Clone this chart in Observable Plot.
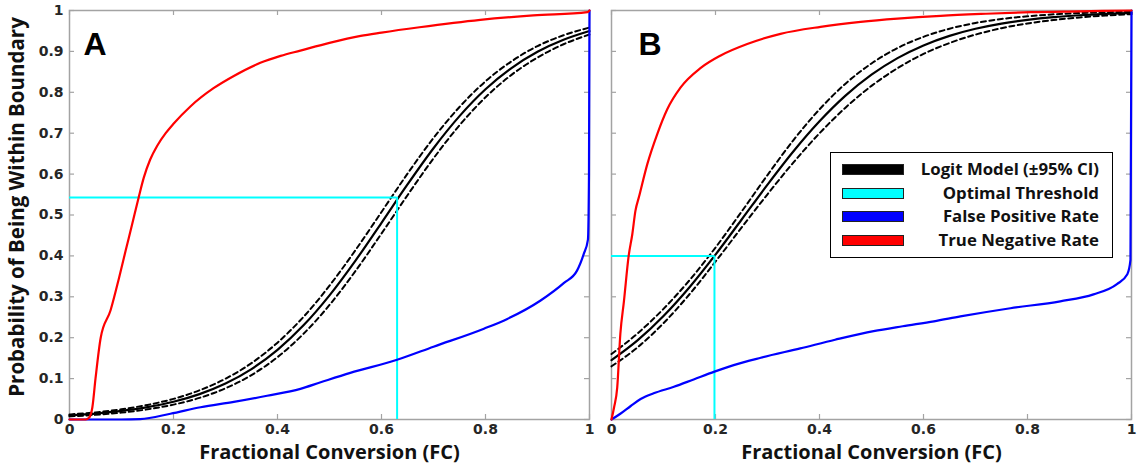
<!DOCTYPE html>
<html>
<head>
<meta charset="utf-8">
<script src="https://cdn.jsdelivr.net/npm/d3@7"></script>
<script src="https://cdn.jsdelivr.net/npm/@observablehq/plot@0.6"></script>
<style>
  body { margin: 0; background: #fff; }
  #wrap { position: relative; width: 1137px; height: 468px; overflow: hidden; }
  #wrap > svg { position: absolute; top: 0; }
  .legend { position: absolute; left: 830px; top: 152px; width: 283px; height: 106px;
            border: 1.5px solid #000; background: #fff; box-sizing: border-box;
            font: bold 16.8px "Open Sans", sans-serif; color: #111; }
  .legend .row { position: absolute; left: 0; right: 0; height: 22px; }
  .legend .sw { position: absolute; left: 11px; top: 6px; width: 62px; height: 11px;
                border: 1px solid #222; box-sizing: border-box; }
  .legend .lab { position: absolute; right: 13px; top: 0; line-height: 22px; white-space: nowrap; }
</style>
</head>
<body>
<div id="wrap"></div>
<script>
// ---- Axis ticks and titles ----
const xTickValues = [0, 0.2, 0.4, 0.6, 0.8, 1];
const xTickLabels = ["0", "0.2", "0.4", "0.6", "0.8", "1"];
const yTickValues = [0, 0.1, 0.2, 0.3, 0.4, 0.5, 0.6, 0.7, 0.8, 0.9, 1];
const yTickLabels = ["0", "0.1", "0.2", "0.3", "0.4", "0.5", "0.6", "0.7", "0.8", "0.9", "1"];
const xTitle = "Fractional Conversion (FC)";
const yTitle = "Probability of Being Within Boundary";
const panelLetters = ["A", "B"];

// ---- Logit model (fitted probability and 95% CI), sampled along FC ----
const fcGrid = [0, 0.05, 0.1, 0.15, 0.2, 0.25, 0.3, 0.35, 0.4, 0.45, 0.5,
                0.55, 0.6, 0.65, 0.7, 0.75, 0.8, 0.85, 0.9, 0.95, 1];
const logitA      = [0.0100, 0.0144, 0.0209, 0.0302, 0.0434, 0.0621, 0.0880, 0.1233, 0.1702, 0.2302, 0.3036,
                     0.3886, 0.4810, 0.5747, 0.6633, 0.7417, 0.8073, 0.8592, 0.8990, 0.9284, 0.9498];
const logitAUpper = [0.0123, 0.0174, 0.0249, 0.0356, 0.0504, 0.0714, 0.0997, 0.1379, 0.1879, 0.2509, 0.3272,
                     0.4141, 0.5074, 0.6010, 0.6882, 0.7641, 0.8268, 0.8757, 0.9130, 0.9394, 0.9583];
const logitALower = [0.0077, 0.0114, 0.0169, 0.0248, 0.0364, 0.0528, 0.0763, 0.1087, 0.1525, 0.2095, 0.2800,
                     0.3631, 0.4546, 0.5484, 0.6384, 0.7193, 0.7878, 0.8427, 0.8850, 0.9174, 0.9413];
const logitB      = [0.1450, 0.1933, 0.2530, 0.3234, 0.4032, 0.4884, 0.5742, 0.6559, 0.7291, 0.7918, 0.8431,
                     0.8836, 0.9147, 0.9380, 0.9553, 0.9680, 0.9771, 0.9837, 0.9884, 0.9918, 0.9941];
const logitBUpper = [0.1600, 0.2103, 0.2705, 0.3406, 0.4204, 0.5079, 0.5977, 0.6832, 0.7584, 0.8211, 0.8705,
                     0.9082, 0.9356, 0.9555, 0.9695, 0.9793, 0.9859, 0.9906, 0.9937, 0.9958, 0.9971];
const logitBLower = [0.1300, 0.1763, 0.2355, 0.3062, 0.3860, 0.4689, 0.5507, 0.6286, 0.6998, 0.7625, 0.8157,
                     0.8590, 0.8938, 0.9205, 0.9411, 0.9567, 0.9683, 0.9768, 0.9831, 0.9878, 0.9911];

// ---- Empirical rates ----
const tnrAX = [0, 0.031, 0.038, 0.044, 0.05, 0.06, 0.079, 0.095, 0.108, 0.12, 0.133, 0.143, 0.155, 0.169, 0.185, 0.2,
               0.233, 0.277, 0.316, 0.367, 0.406, 0.444, 0.5, 0.56, 0.6, 0.673, 0.79, 0.892, 0.996, 1];
const tnrAY = [0, 0, 0.005, 0.03, 0.10, 0.20, 0.267, 0.345, 0.413, 0.475, 0.543, 0.592, 0.635, 0.670, 0.700, 0.723,
               0.766, 0.810, 0.840, 0.872, 0.889, 0.902, 0.921, 0.938, 0.946, 0.959, 0.977, 0.988, 0.996, 1];
const fprAX = [0, 0.1, 0.136, 0.194, 0.252, 0.316, 0.38, 0.444, 0.483, 0.54, 0.63, 0.70, 0.797, 0.842,
               0.906, 0.951, 0.976, 0.989, 0.997, 0.999, 1];
const fprAY = [0, 0, 0.001, 0.014, 0.03, 0.043, 0.058, 0.075, 0.091, 0.114, 0.146, 0.178, 0.222, 0.246,
               0.291, 0.334, 0.364, 0.405, 0.44, 0.6, 1];
const tnrBX = [0, 0.005, 0.011, 0.017, 0.024, 0.033, 0.04, 0.046, 0.053, 0.069, 0.088, 0.107, 0.133, 0.171,
               0.21, 0.261, 0.325, 0.402, 0.479, 0.55, 0.633, 0.72, 0.806, 0.9, 1];
const tnrBY = [0, 0.03, 0.078, 0.209, 0.29, 0.40, 0.453, 0.51, 0.545, 0.625, 0.698, 0.758, 0.812, 0.859,
               0.89, 0.918, 0.943, 0.960, 0.972, 0.98, 0.987, 0.992, 0.996, 0.998, 1];
const fprBX = [0, 0.017, 0.037, 0.056, 0.081, 0.12, 0.158, 0.198, 0.235, 0.287, 0.363, 0.43, 0.504, 0.56,
               0.62, 0.671, 0.767, 0.863, 0.927, 0.972, 0.992, 0.998, 1];
const fprBY = [0, 0.014, 0.033, 0.050, 0.064, 0.080, 0.098, 0.117, 0.133, 0.151, 0.174, 0.195, 0.216, 0.228,
               0.240, 0.252, 0.272, 0.289, 0.306, 0.331, 0.355, 0.39, 1];

// ---- Optimal threshold (FC, probability) for each panel ----
const thresholdFC = [0.63, 0.198];
const thresholdP  = [0.543, 0.40];

// ---- Legend ----
const legendLabels = ["Logit Model (\u00B195% CI)", "Optimal Threshold", "False Positive Rate", "True Negative Rate"];
const legendColors = ["#000000", "#00ffff", "#0000ff", "#ff0000"];

// ---- Drawing ----
const H = 468, MT = 10, MB = 49;
const frameH = H - MT - MB;
const axisGray = "#a3a3a3";
const tickLen = 5;
const titleFont = "Open Sans";
const toRows = (xs, ys) => xs.map((x, i) => ({x, y: ys[i]}));

function panel(o) {
  const frameW = o.width - o.marginLeft - o.marginRight;
  const marks = [
    Plot.frame({stroke: axisGray, strokeWidth: 1.5}),
    Plot.tickX(xTickValues, {x: d => d, stroke: axisGray, strokeWidth: 1.2, insetTop: frameH - tickLen}),
    Plot.tickX(xTickValues, {x: d => d, stroke: axisGray, strokeWidth: 1.2, insetBottom: frameH - tickLen}),
    Plot.tickY(yTickValues, {y: d => d, stroke: axisGray, strokeWidth: 1.2, insetRight: frameW - tickLen}),
    Plot.tickY(yTickValues, {y: d => d, stroke: axisGray, strokeWidth: 1.2, insetLeft: frameW - tickLen}),
    Plot.axisX(xTickValues, {
      tickSize: 0, tickPadding: 5, label: null, fill: "#262626",
      tickFormat: d => xTickLabels[xTickValues.indexOf(d)],
      fontFamily: "DejaVu Sans", fontSize: 14, fontWeight: "bold"
    }),
    Plot.text([xTitle], {
      frameAnchor: "bottom", dy: 39, textAnchor: "middle", fill: "#111",
      fontFamily: titleFont, fontSize: 20, fontWeight: "bold"
    }),
    // model fit and confidence bounds
    Plot.line(toRows(fcGrid, o.upper), {x: "x", y: "y", stroke: "#000", strokeWidth: 2, strokeDasharray: "5,3.5", curve: "monotone-x"}),
    Plot.line(toRows(fcGrid, o.lower), {x: "x", y: "y", stroke: "#000", strokeWidth: 2, strokeDasharray: "5,3.5", curve: "monotone-x"}),
    Plot.line(toRows(fcGrid, o.logit), {x: "x", y: "y", stroke: "#000", strokeWidth: 2.2, curve: "monotone-x"}),
    // optimal threshold cross-hair
    Plot.ruleY([o.thrP], {y: d => d, x1: 0, x2: o.thrFC, stroke: "#00ffff", strokeWidth: 2}),
    Plot.ruleX([o.thrFC], {x: d => d, y1: 0, y2: o.thrP, stroke: "#00ffff", strokeWidth: 2}),
    // empirical rates
    Plot.line(toRows(o.fprX, o.fprY), {x: "x", y: "y", stroke: "#0000ff", strokeWidth: 2.2, curve: "monotone-x"}),
    Plot.line(toRows(o.tnrX, o.tnrY), {x: "x", y: "y", stroke: "#ff0000", strokeWidth: 2.2, curve: "monotone-x"}),
    Plot.text([o.letter], {
      frameAnchor: "top-left", dx: o.letterDx, dy: 22, textAnchor: "start", lineAnchor: "top",
      fill: "#000", fontFamily: "Liberation Sans", fontSize: 32, fontWeight: "bold"
    })
  ];
  if (o.showY) {
    marks.push(
      Plot.axisY(yTickValues, {
        tickSize: 0, tickPadding: 6, label: null, fill: "#262626",
        tickFormat: d => yTickLabels[yTickValues.indexOf(d)],
        fontFamily: "DejaVu Sans", fontSize: 14, fontWeight: "bold"
      }),
      Plot.text([yTitle], {
        frameAnchor: "left", rotate: -90, dx: -52, dy: -8, textAnchor: "middle", fill: "#111",
        fontFamily: titleFont, fontSize: 20.5, fontWeight: "bold"
      })
    );
  } else {
    marks.push(Plot.axisY({ticks: [], label: null}));
  }
  const svg = Plot.plot({
    width: o.width, height: H,
    marginLeft: o.marginLeft, marginRight: o.marginRight, marginTop: MT, marginBottom: MB,
    x: {domain: [0, 1]},
    y: {domain: [0, 1]},
    style: {background: "transparent", overflow: "visible"},
    marks
  });
  svg.style.left = o.left + "px";
  return svg;
}

const wrap = document.getElementById("wrap");
wrap.appendChild(panel({
  left: 0, width: 600, marginLeft: 69, marginRight: 11, showY: true,
  letter: panelLetters[0], letterDx: 14,
  logit: logitA, upper: logitAUpper, lower: logitALower,
  tnrX: tnrAX, tnrY: tnrAY, fprX: fprAX, fprY: fprAY,
  thrFC: thresholdFC[0], thrP: thresholdP[0]
}));
wrap.appendChild(panel({
  left: 590, width: 547, marginLeft: 21, marginRight: 6, showY: false,
  letter: panelLetters[1], letterDx: 27,
  logit: logitB, upper: logitBUpper, lower: logitBLower,
  tnrX: tnrBX, tnrY: tnrBY, fprX: fprBX, fprY: fprBY,
  thrFC: thresholdFC[1], thrP: thresholdP[1]
}));

// legend box inside panel B
const legend = document.createElement("div");
legend.className = "legend";
legendLabels.forEach((label, i) => {
  const row = document.createElement("div");
  row.className = "row";
  row.style.top = (5 + i * 23.5) + "px";
  const sw = document.createElement("div");
  sw.className = "sw";
  sw.style.background = legendColors[i];
  const lab = document.createElement("div");
  lab.className = "lab";
  lab.textContent = label;
  row.appendChild(sw);
  row.appendChild(lab);
  legend.appendChild(row);
});
wrap.appendChild(legend);
</script>
</body>
</html>
